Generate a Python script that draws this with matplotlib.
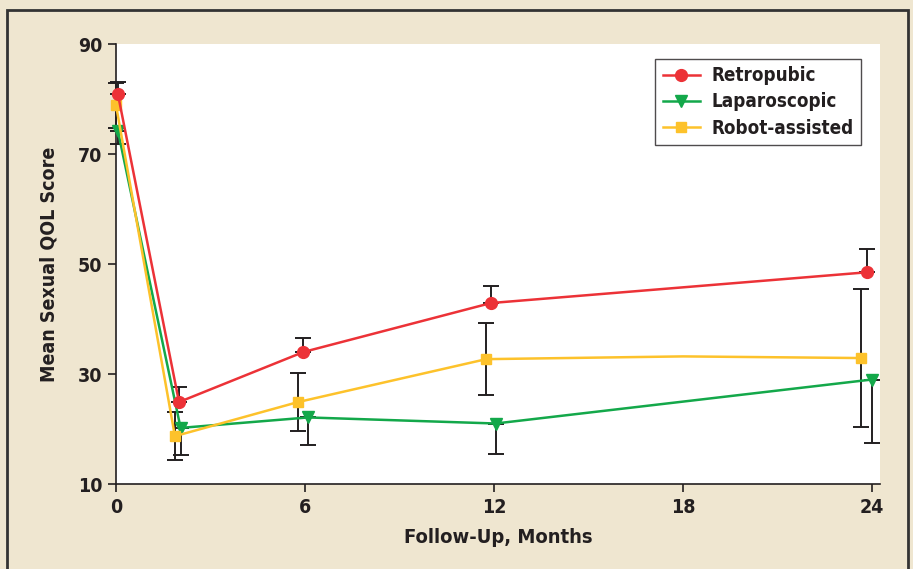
#!/usr/bin/env python3
"""Mean sexual QOL score by surgical approach over follow-up."""

import matplotlib.pyplot as plt
from matplotlib.patches import Rectangle

plt.rcParams["font.family"] = ["DejaVu Sans"]
plt.rcParams["font.stretch"] = "condensed"
plt.rcParams["font.weight"] = "bold"

# Retropubic: upper error bars only
retro_x = [0.06, 2.0, 5.95, 11.9, 23.85]
retro_y = [80.9, 24.9, 34.0, 42.9, 48.5]
retro_err = [2.2, 2.7, 2.5, 3.1, 4.2]

# Laparoscopic: lower error bars only
lap_x = [0.06, 2.05, 6.1, 12.05, 24.0]
lap_y = [74.2, 20.2, 22.1, 21.0, 29.0]
lap_err = [2.4, 5.0, 5.0, 5.5, 11.6]

# Robot-assisted: symmetric error bars (18-month vertex has no marker)
robot_x = [0.0, 1.87, 5.78, 11.75, 18.0, 23.65]
robot_y = [78.9, 18.7, 24.9, 32.7, 33.2, 32.9]
robot_err = [4.1, 4.4, 5.3, 6.6, None, 12.5]

RED = "#EC3237"
GREEN = "#13A84A"
YELLOW = "#FDC22B"
INK = "#231F20"
BEIGE = "#EFE6D0"

fig = plt.figure(figsize=(9.13, 5.69), dpi=100, facecolor=BEIGE)
fig.patches.append(Rectangle((7 / 913, -0.1), 901 / 913, 1.1 - 10 / 569,
                             transform=fig.transFigure, fill=False,
                             edgecolor="#333333", linewidth=2.0))

ax = fig.add_axes([116 / 913, 85 / 569, 764 / 913, 440 / 569])
ax.set_facecolor("white")

eb = dict(fmt="none", ecolor=INK, elinewidth=1.4, capsize=6, capthick=1.4,
          zorder=2, clip_on=False)
ax.errorbar(retro_x, retro_y, yerr=[[0] * len(retro_err), retro_err], **eb)
ax.errorbar(lap_x, lap_y, yerr=[lap_err, [0] * len(lap_err)], **eb)
rx = [x for x, e in zip(robot_x, robot_err) if e is not None]
ry = [y for y, e in zip(robot_y, robot_err) if e is not None]
re = [e for e in robot_err if e is not None]
ax.errorbar(rx, ry, yerr=re, **eb)

ax.plot(retro_x, retro_y, color=RED, lw=1.8, marker="o", ms=8.5,
        label="Retropubic", zorder=4, clip_on=False)
ax.plot(lap_x, lap_y, color=GREEN, lw=1.8, marker="v", ms=8,
        label="Laparoscopic", zorder=3, clip_on=False)
ax.plot(robot_x, robot_y, color=YELLOW, lw=1.8, marker="s", ms=7.5,
        markevery=[i for i, e in enumerate(robot_err) if e is not None],
        label="Robot-assisted", zorder=3, clip_on=False)

ax.set_xlim(0, 24.25)
ax.set_ylim(10, 90)
ax.set_xticks([0, 6, 12, 18, 24])
ax.set_yticks([10, 30, 50, 70, 90])
for side in ("top", "right"):
    ax.spines[side].set_visible(False)
for side in ("left", "bottom"):
    ax.spines[side].set_color(INK)
    ax.spines[side].set_linewidth(1.2)
ax.tick_params(direction="out", length=6, width=1.2, color=INK,
               labelcolor=INK, labelsize=14, pad=4)

ax.set_xlabel("Follow-Up, Months", fontsize=14.5, fontweight="bold",
              color=INK, labelpad=8)
ax.set_ylabel("Mean Sexual QOL Score", fontsize=14, fontweight="bold",
              color=INK, labelpad=14)

leg = ax.legend(loc="upper right", bbox_to_anchor=(0.98, 0.975),
                fontsize=13.5, frameon=True, fancybox=False, handlelength=2.0,
                borderpad=0.4, labelspacing=0.38, handletextpad=0.6,
                borderaxespad=0.2)
leg.get_frame().set_edgecolor(INK)
leg.get_frame().set_linewidth(1.0)
for t in leg.get_texts():
    t.set_color(INK)

fig.savefig("out.png", dpi=100, facecolor=BEIGE)
